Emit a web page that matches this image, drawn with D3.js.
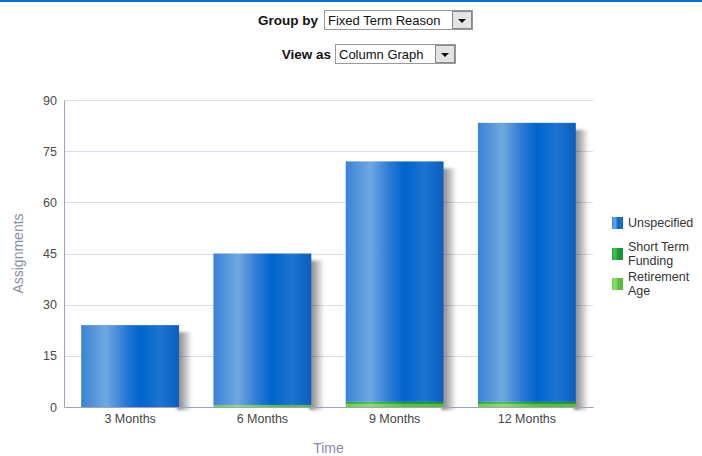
<!DOCTYPE html>
<html>
<head>
<meta charset="utf-8">
<script src="https://cdn.jsdelivr.net/npm/d3@7/dist/d3.min.js"></script>
<style>
  body { margin: 0; background: #fff; font-family: "Liberation Sans", Arial, sans-serif; }
  svg { display: block; }
</style>
</head>
<body>
<svg width="702" height="456"></svg>
<script>
var categories = ["3 Months", "6 Months", "9 Months", "12 Months"];
var seriesNames = ["Unspecified", "Short Term Funding", "Retirement Age"];
var unspecified = [24, 44.4, 70.5, 81.8];
var shortTermFunding = [0, 0, 0.6, 0.6];
var retirementAge = [0, 0.6, 0.9, 0.9];
var yTicks = [0, 15, 30, 45, 60, 75, 90];

var svg = d3.select("svg"),
  margin = { top: 100, right: 109, bottom: 49, left: 64 },
  width = +svg.attr("width") - margin.left - margin.right,
  height = +svg.attr("height") - margin.top - margin.bottom;

// top blue rule
svg.append("rect").attr("x", 0).attr("y", 0).attr("width", 702).attr("height", 2).attr("fill", "#0a6ccf");

// fake dropdown controls
function dropdown(labelText, value, labelRight, boxX, boxW, y) {
  svg.append("text")
    .attr("x", labelRight).attr("y", y + 15)
    .attr("text-anchor", "end")
    .attr("font-weight", "bold").attr("font-size", 13.5).attr("fill", "#111")
    .text(labelText);
  svg.append("rect").attr("x", boxX + 0.5).attr("y", y + 0.5).attr("width", boxW).attr("height", 19)
    .attr("fill", "#fff").attr("stroke", "#999");
  svg.append("text").attr("x", boxX + 4).attr("y", y + 15)
    .attr("font-size", 13).attr("fill", "#111").text(value);
  var bx = boxX + boxW - 20;
  svg.append("rect").attr("x", bx + 0.5).attr("y", y + 1.5).attr("width", 19).attr("height", 17)
    .attr("fill", "#e4e4e4").attr("stroke", "#888");
  svg.append("path")
    .attr("d", "M" + (bx + 6) + "," + (y + 9) + "h8l-4,4z")
    .attr("fill", "#111");
}
dropdown("Group by", "Fixed Term Reason", 318, 324, 148, 10);
dropdown("View as", "Column Graph", 331, 335, 120, 44);

var defs = svg.append("defs");
function barGradient(id, stops) {
  var gr = defs.append("linearGradient").attr("id", id).attr("x1", "0%").attr("x2", "100%").attr("y1", "0%").attr("y2", "0%");
  stops.forEach(function (s) { gr.append("stop").attr("offset", s[0]).attr("stop-color", s[1]); });
}
barGradient("gBlue", [["0%", "#3a82d6"], ["25%", "#6fa8e0"], ["45%", "#2c7ad6"], ["60%", "#0064cc"], ["80%", "#1d74d2"], ["100%", "#0b5fbe"]]);
barGradient("gDark", [["0%", "#2aa640"], ["25%", "#4cbc5c"], ["60%", "#129a2e"], ["100%", "#1a9034"]]);
barGradient("gLight", [["0%", "#6ccc4c"], ["25%", "#8edc70"], ["60%", "#58c238"], ["100%", "#5cbc3c"]]);
var sh = defs.append("linearGradient").attr("id", "gShadow").attr("x1", "0%").attr("x2", "100%");
sh.append("stop").attr("offset", "0%").attr("stop-color", "#000").attr("stop-opacity", 0.5);
sh.append("stop").attr("offset", "35%").attr("stop-color", "#000").attr("stop-opacity", 0.35);
sh.append("stop").attr("offset", "100%").attr("stop-color", "#000").attr("stop-opacity", 0);
defs.append("filter").attr("id", "blur").attr("x", "-50%").attr("y", "-10%").attr("width", "200%").attr("height", "120%")
  .append("feGaussianBlur").attr("stdDeviation", 1.8);

var g = svg.append("g").attr("transform", "translate(" + margin.left + "," + margin.top + ")");

var x = d3.scaleBand().domain(categories).range([0, width]).paddingInner(0.26).paddingOuter(0.13);
var y = d3.scaleLinear().domain([0, 90]).range([height, 0]);

// gridlines
g.append("g").selectAll("line").data(yTicks.slice(1)).enter().append("line")
  .attr("x1", 0).attr("x2", width)
  .attr("y1", function (d) { return Math.round(y(d)) + 0.5; })
  .attr("y2", function (d) { return Math.round(y(d)) + 0.5; })
  .attr("stroke", "#dcdce8");

// stacked data
var rows = categories.map(function (c, i) {
  return { cat: c, Unspecified: unspecified[i], "Short Term Funding": shortTermFunding[i], "Retirement Age": retirementAge[i] };
});
var stack = d3.stack().keys(["Retirement Age", "Short Term Funding", "Unspecified"]);
var layers = stack(rows);
var fills = { "Unspecified": "url(#gBlue)", "Short Term Funding": "url(#gDark)", "Retirement Age": "url(#gLight)" };
function total(d) { return d.Unspecified + d["Short Term Funding"] + d["Retirement Age"]; }

// shadows
g.append("g").selectAll("rect").data(rows).enter().append("rect")
  .attr("x", function (d) { return x(d.cat) + x.bandwidth() - 2; })
  .attr("width", 15)
  .attr("y", function (d) { return y(total(d)) + 7; })
  .attr("height", function (d) { return height - y(total(d)) - 4; })
  .attr("fill", "url(#gShadow)")
  .attr("filter", "url(#blur)");

g.append("g").selectAll("g").data(layers).enter().append("g")
  .attr("fill", function (d) { return fills[d.key]; })
  .selectAll("rect").data(function (d) { return d; }).enter().append("rect")
  .attr("x", function (d) { return x(d.data.cat); })
  .attr("width", x.bandwidth())
  .attr("y", function (d) { return y(d[1]); })
  .attr("height", function (d) { return y(d[0]) - y(d[1]); });

// axes
var yAxis = g.append("g").call(d3.axisLeft(y).tickValues(yTicks).tickSize(0).tickPadding(7));
yAxis.select(".domain").attr("stroke", "#a0a0c0");
yAxis.selectAll("text").attr("font-family", "Liberation Sans, Arial, sans-serif").attr("font-size", 12.5).attr("fill", "#4a4a4a");

var xAxis = g.append("g").attr("transform", "translate(0," + height + ")")
  .call(d3.axisBottom(x).tickSize(0).tickPadding(7));
xAxis.select(".domain").attr("stroke", "#a0a0c0");
xAxis.selectAll("text").attr("font-family", "Liberation Sans, Arial, sans-serif").attr("font-size", 12.5).attr("fill", "#444");

// axis titles
svg.append("text")
  .attr("transform", "translate(23," + (margin.top + height / 2) + ") rotate(-90)")
  .attr("text-anchor", "middle").attr("font-size", 14).attr("fill", "#8a8aaa")
  .text("Assignments");
svg.append("text")
  .attr("x", margin.left + width / 2).attr("y", 453)
  .attr("text-anchor", "middle").attr("font-size", 14).attr("fill", "#8a8aaa")
  .text("Time");

// legend
var legendItems = [
  { name: seriesNames[0], lines: ["Unspecified"], fill: "url(#gBlue)", y: 217 },
  { name: seriesNames[1], lines: ["Short Term", "Funding"], fill: "url(#gDark)", y: 248 },
  { name: seriesNames[2], lines: ["Retirement", "Age"], fill: "url(#gLight)", y: 278 }
];
var lg = svg.append("g");
legendItems.forEach(function (d) {
  lg.append("rect").attr("x", 612).attr("y", d.y).attr("width", 11).attr("height", 12).attr("fill", d.fill);
  var t = lg.append("text").attr("x", 628).attr("font-size", 12.5).attr("fill", "#333");
  var y0 = d.lines.length === 1 ? d.y + 10 : d.y + 3;
  d.lines.forEach(function (l, i) {
    t.append("tspan").attr("x", 628).attr("y", y0 + i * 14).text(l);
  });
});
</script>
</body>
</html>
